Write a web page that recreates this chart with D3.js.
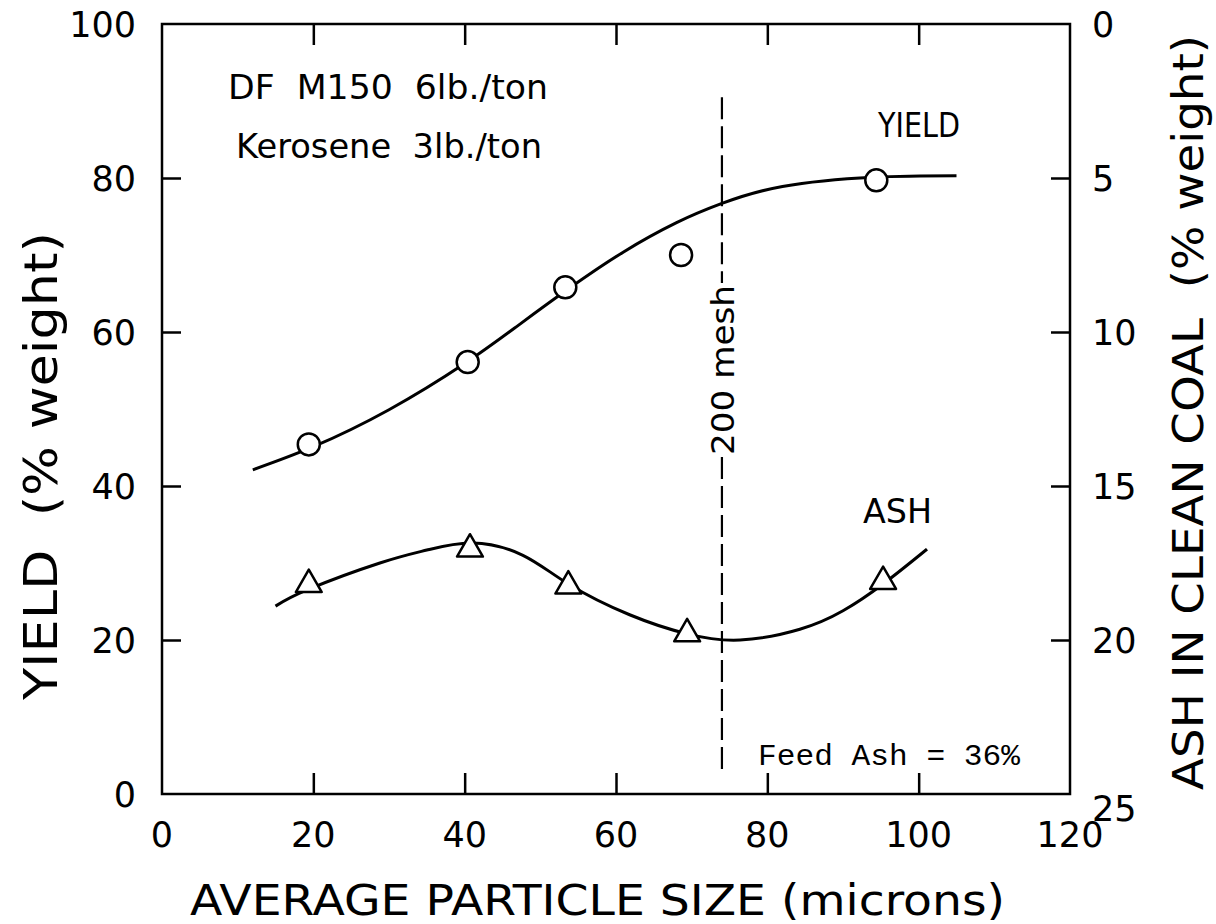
<!DOCTYPE html>
<html>
<head>
<meta charset="utf-8">
<script src="https://cdn.jsdelivr.net/npm/d3@7"></script>
<style>
  html, body { margin: 0; padding: 0; background: #fff; }
  text { fill: #000; }
</style>
</head>
<body>
<svg id="chart" width="1216" height="924"></svg>
<script>
// ---- data ----
const xTicks = [0, 20, 40, 60, 80, 100, 120];
const yTicks = [0, 20, 40, 60, 80, 100];
const ashTicks = [0, 5, 10, 15, 20, 25];

// measured points: yield (circles)
const yieldSize = [19.4, 40.4, 53.3, 68.6, 94.4];
const yieldPct  = [45.4, 56.1, 65.8, 70.0, 79.7];
// measured points: ash in clean coal (triangles, right axis)
const ashSize = [19.4, 40.7, 53.7, 69.4, 95.3];
const ashPct  = [18.2, 17.05, 18.25, 19.8, 18.1];

// hand-drawn fitted curves (traced)
const yieldCurveX = [12, 20, 30, 40, 47, 54, 61, 68, 74, 82, 94, 105];
const yieldCurveY = [42.1, 45.1, 49.9, 55.9, 60.8, 65.8, 70.4, 74.2, 76.7, 78.9, 80.1, 80.3];
const ashCurveX = [15, 19.4, 28.8, 35, 41, 47.7, 53.7, 61.8, 69.4, 76.4, 84.3, 90, 95.3, 101.1];
const ashCurveY = [18.9, 18.35, 17.5, 17.08, 16.85, 17.25, 18.18, 19.18, 19.8, 20.0, 19.65, 19.05, 18.18, 17.05];

const meshSize = 74;           // 200 mesh
const meshRange = [2.5, 90.5]; // vertical extent of dashed line (yield units)

const xTitle = "AVERAGE PARTICLE SIZE (microns)";
const yTitle = "YIELD  (% weight)";
const y2Title = "ASH IN CLEAN COAL  (% weight)";
const note1 = "DF  M150  6lb./ton";
const note2 = "Kerosene  3lb./ton";
const feedNote = "Feed Ash = 36%";

// ---- layout ----
const svg = d3.select("#chart");
const L = 162, R = 1070, T = 24, B = 794;
const x = d3.scaleLinear().domain([0, 120]).range([L, R]);
const y = d3.scaleLinear().domain([0, 100]).range([B, T]);
const y2 = d3.scaleLinear().domain([0, 25]).range([T, B]);
const font = "'DejaVu Sans', sans-serif";

// frame
svg.append("rect").attr("x", L).attr("y", T).attr("width", R - L).attr("height", B - T)
  .attr("fill", "none").attr("stroke", "#000").attr("stroke-width", 2.5);

// axes with inner ticks
const tickLen = 21;
const bottomAxis = d3.axisBottom(x).tickValues(xTicks.slice(1, -1)).tickSize(-tickLen).tickFormat("");
const topAxis = d3.axisTop(x).tickValues(xTicks.slice(1, -1)).tickSize(-tickLen).tickFormat("");
const leftAxis = d3.axisLeft(y).tickValues(yTicks.slice(1, -1)).tickSize(-19).tickFormat("");
const rightAxis = d3.axisRight(y2).tickValues(ashTicks.slice(1, -1)).tickSize(-19).tickFormat("");
function styleAxis(g) {
  g.select(".domain").remove();
  g.selectAll(".tick line").attr("stroke", "#000").attr("stroke-width", 2.5);
}
svg.append("g").attr("transform", `translate(0,${B})`).call(bottomAxis).call(styleAxis);
svg.append("g").attr("transform", `translate(0,${T})`).call(topAxis).call(styleAxis);
svg.append("g").attr("transform", `translate(${L},0)`).call(leftAxis).call(styleAxis);
svg.append("g").attr("transform", `translate(${R},0)`).call(rightAxis).call(styleAxis);

// tick labels
const tickFont = 35;
svg.append("g").selectAll("text").data(xTicks).join("text")
  .attr("x", d => x(d)).attr("y", B + 53)
  .attr("text-anchor", "middle").attr("font-family", font).attr("font-size", tickFont)
  .text(d => d);
svg.append("g").selectAll("text").data(yTicks).join("text")
  .attr("x", L - 26).attr("y", d => y(d)).attr("dy", "0.36em")
  .attr("text-anchor", "end").attr("font-family", font).attr("font-size", tickFont)
  .text(d => d);
svg.append("g").selectAll("text").data(ashTicks).join("text")
  .attr("x", R + 22).attr("y", d => y2(d) + (d === 25 ? 14 : 0)).attr("dy", "0.36em")
  .attr("text-anchor", "start").attr("font-family", font).attr("font-size", tickFont)
  .text(d => d);

// axis titles
svg.append("text").attr("x", 190).attr("y", 915)
  .attr("font-family", font).attr("font-size", 42)
  .attr("textLength", 815).attr("lengthAdjust", "spacingAndGlyphs")
  .style("white-space", "pre").text(xTitle);
svg.append("text").attr("transform", "translate(57,700) rotate(-90)")
  .attr("font-family", font).attr("font-size", 46)
  .attr("textLength", 468).attr("lengthAdjust", "spacingAndGlyphs")
  .style("white-space", "pre").text(yTitle);
svg.append("text").attr("transform", "translate(1203,790) rotate(-90)")
  .attr("font-family", font).attr("font-size", 43)
  .attr("textLength", 755).attr("lengthAdjust", "spacingAndGlyphs")
  .style("white-space", "pre").text(y2Title);

// annotations
svg.append("text").attr("x", 228).attr("y", 99).attr("font-family", font).attr("font-size", 33)
  .attr("textLength", 320).attr("lengthAdjust", "spacingAndGlyphs")
  .style("white-space", "pre").text(note1);
svg.append("text").attr("x", 236).attr("y", 158).attr("font-family", font).attr("font-size", 33)
  .attr("textLength", 306).attr("lengthAdjust", "spacingAndGlyphs")
  .style("white-space", "pre").text(note2);
svg.append("text").attr("x", 878).attr("y", 137).attr("font-family", font).attr("font-size", 33)
  .attr("textLength", 82).attr("lengthAdjust", "spacingAndGlyphs").text("YIELD");
svg.append("text").attr("x", 863).attr("y", 523).attr("font-family", font).attr("font-size", 33)
  .attr("textLength", 69).attr("lengthAdjust", "spacingAndGlyphs").text("ASH");
svg.append("text").attr("x", 758).attr("y", 765)
  .attr("font-family", "'Liberation Mono', 'DejaVu Sans Mono', monospace").attr("font-size", 30)
  .attr("textLength", 262).attr("lengthAdjust", "spacingAndGlyphs")
  .style("white-space", "pre").text(feedNote);

// 200 mesh label and dashed line (interrupted by label)
const meshLabel = svg.append("text")
  .attr("transform", `translate(${x(meshSize) + 12},455) rotate(-90)`)
  .attr("font-family", font).attr("font-size", 32)
  .attr("textLength", 170).attr("lengthAdjust", "spacingAndGlyphs")
  .text("200 mesh");
const lb = meshLabel.node().getBoundingClientRect();
const gapTop = lb.top - 2, gapBot = lb.bottom + 2;
const dashLine = (y1, yEnd) => svg.append("line")
  .attr("x1", x(meshSize)).attr("x2", x(meshSize)).attr("y1", y1).attr("y2", yEnd)
  .attr("stroke", "#000").attr("stroke-width", 2.2).attr("stroke-dasharray", "22,7");
dashLine(y(meshRange[1]), gapTop);
dashLine(gapBot, y(meshRange[0]));

// curves
const yieldLine = d3.line().x(d => x(d[0])).y(d => y(d[1])).curve(d3.curveNatural);
const ashLine = d3.line().x(d => x(d[0])).y(d => y2(d[1])).curve(d3.curveNatural);
svg.append("path").attr("d", yieldLine(d3.zip(yieldCurveX, yieldCurveY)))
  .attr("fill", "none").attr("stroke", "#000").attr("stroke-width", 3);
svg.append("path").attr("d", ashLine(d3.zip(ashCurveX, ashCurveY)))
  .attr("fill", "none").attr("stroke", "#000").attr("stroke-width", 3);

// markers
svg.append("g").selectAll("circle").data(d3.zip(yieldSize, yieldPct)).join("circle")
  .attr("cx", d => x(d[0])).attr("cy", d => y(d[1])).attr("r", 11)
  .attr("fill", "#fff").attr("stroke", "#000").attr("stroke-width", 2.5);
const tri = d3.symbol().type(d3.symbolTriangle).size(290);
svg.append("g").selectAll("path").data(d3.zip(ashSize, ashPct)).join("path")
  .attr("d", tri).attr("transform", d => `translate(${x(d[0])},${y2(d[1])})`)
  .attr("fill", "#fff").attr("stroke", "#000").attr("stroke-width", 2.5).attr("stroke-linejoin", "round");
</script>
</body>
</html>
